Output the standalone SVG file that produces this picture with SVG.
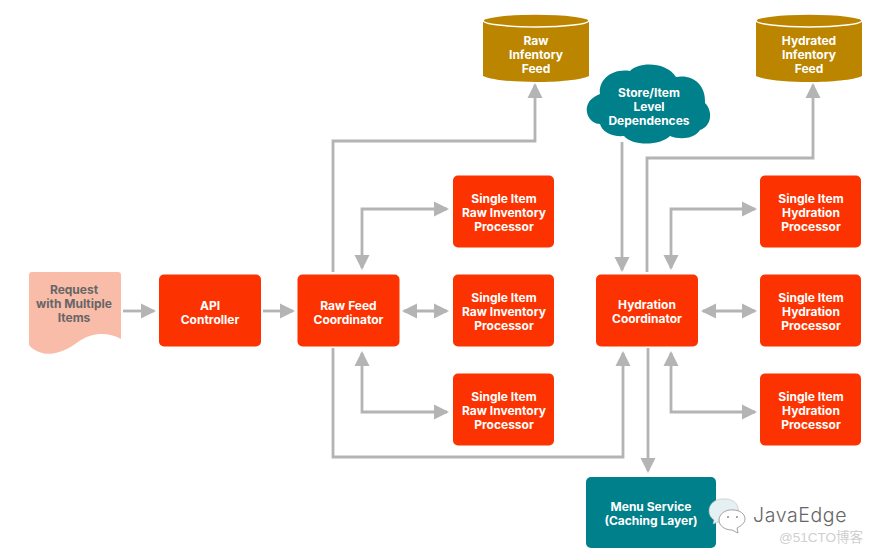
<svg xmlns="http://www.w3.org/2000/svg" width="875" height="555" viewBox="0 0 875 555">
<style>
.box{fill:#fc3300}
.t{font-family:"Inter","Liberation Sans",sans-serif;font-size:12px;font-weight:700;fill:#fff;text-anchor:middle}
.c{fill:none;stroke:#b4b4b4;stroke-width:2.8}
.can{fill:#bb8500}
.rim{fill:#bb8500;stroke:#fff;stroke-width:1.500}
.teal{fill:#00808a}
.bubble{fill:#fff;stroke:#8a8a8a;stroke-width:.8}
.eye{fill:#8a8a8a}
</style>
<defs>
<marker id="a" markerUnits="userSpaceOnUse" markerWidth="16" markerHeight="16" refX="13" refY="8" orient="auto-start-reverse"><path d="M0 .5L15 8L0 15.500z" fill="#b4b4b4"/></marker>
</defs>
<rect width="875" height="555" fill="#fff"/>
<g id="connectors">
<path class="c" marker-end="url(#a)" d="M123 311H154"/>
<path class="c" marker-end="url(#a)" d="M263 311H293"/>
<path class="c" marker-end="url(#a)" d="M333 272V141H535V85"/>
<path class="c" marker-start="url(#a)" marker-end="url(#a)" d="M362 268V209H447"/>
<path class="c" marker-start="url(#a)" marker-end="url(#a)" d="M404 311H447"/>
<path class="c" marker-start="url(#a)" marker-end="url(#a)" d="M362 353V412H447"/>
<path class="c" marker-end="url(#a)" d="M333 348V457H623V353"/>
<path class="c" marker-end="url(#a)" d="M622 142V270"/>
<path class="c" marker-end="url(#a)" d="M647 272V158H813V85"/>
<path class="c" marker-start="url(#a)" marker-end="url(#a)" d="M671 268V209H755"/>
<path class="c" marker-start="url(#a)" marker-end="url(#a)" d="M703 311H755"/>
<path class="c" marker-start="url(#a)" marker-end="url(#a)" d="M671 353V412H755"/>
<path class="c" marker-end="url(#a)" d="M648 348V471"/>
</g>
<g id="request"><path d="M32 272H118Q121 272 121 275V339C108 332 92 332 78 342C66 351 52 356 42 353C36 351 32 349 29 345V275Q29 272 32 272z" fill="#f8bca8"/><text class="t" style="fill:#666"><tspan x="74" y="294">Request</tspan><tspan x="74" y="308">with Multiple</tspan><tspan x="74" y="322">Items</tspan></text></g>
<g id="api"><rect class="box" x="159" y="274.500" width="102" height="72" rx="5"/><text class="t"><tspan x="210" y="310">API</tspan><tspan x="210" y="324">Controller</tspan></text></g>
<g id="raw-coordinator"><rect class="box" x="297.500" y="274.500" width="102" height="72" rx="5"/><text class="t"><tspan x="348.500" y="310">Raw Feed</tspan><tspan x="348.500" y="324">Coordinator</tspan></text></g>
<g id="raw-1"><rect class="box" x="453" y="175.500" width="101" height="72" rx="5"/><text class="t"><tspan x="504" y="203">Single Item</tspan><tspan x="504" y="217">Raw Inventory</tspan><tspan x="504" y="231">Processor</tspan></text></g>
<g id="raw-2"><rect class="box" x="453" y="274.500" width="101" height="72" rx="5"/><text class="t"><tspan x="504" y="302">Single Item</tspan><tspan x="504" y="316">Raw Inventory</tspan><tspan x="504" y="330">Processor</tspan></text></g>
<g id="raw-3"><rect class="box" x="453" y="373.500" width="101" height="72" rx="5"/><text class="t"><tspan x="504" y="401">Single Item</tspan><tspan x="504" y="415">Raw Inventory</tspan><tspan x="504" y="429">Processor</tspan></text></g>
<g id="hydration-coordinator"><rect class="box" x="596" y="274.500" width="102" height="72" rx="5"/><text class="t"><tspan x="647" y="309">Hydration</tspan><tspan x="647" y="323">Coordinator</tspan></text></g>
<g id="hyd-1"><rect class="box" x="760" y="175.500" width="101" height="72" rx="5"/><text class="t"><tspan x="811" y="203">Single Item</tspan><tspan x="811" y="217">Hydration</tspan><tspan x="811" y="231">Processor</tspan></text></g>
<g id="hyd-2"><rect class="box" x="760" y="274.500" width="101" height="72" rx="5"/><text class="t"><tspan x="811" y="302">Single Item</tspan><tspan x="811" y="316">Hydration</tspan><tspan x="811" y="330">Processor</tspan></text></g>
<g id="hyd-3"><rect class="box" x="760" y="373.500" width="101" height="72" rx="5"/><text class="t"><tspan x="811" y="401">Single Item</tspan><tspan x="811" y="415">Hydration</tspan><tspan x="811" y="429">Processor</tspan></text></g>
<g id="raw-feed"><path class="can" d="M483 20V76C500 84 572 84 589 76V20z"/><ellipse class="rim" cx="536" cy="20.500" rx="53" ry="6.500"/><text class="t"><tspan x="536" y="45">Raw</tspan><tspan x="536" y="59">Infentory</tspan><tspan x="536" y="73">Feed</tspan></text></g>
<g id="hydrated-feed"><path class="can" d="M756 20V76C773 84 845 84 862 76V20z"/><ellipse class="rim" cx="809" cy="20.500" rx="53" ry="6.500"/><text class="t"><tspan x="809" y="45">Hydrated</tspan><tspan x="809" y="59">Infentory</tspan><tspan x="809" y="73">Feed</tspan></text></g>
<g id="dependences"><path class="teal" d="M600 94C598 80 612 68 630 71C638 62 666 61 676 77C692 74 706 84 705 103C713 111 712 126 700 130C694 139 680 140 670 136C660 146 632 146 624 136C612 137 602 132 600 124C590 124 584 112 588 104C590 99 595 96 600 94z"/><text class="t"><tspan x="649" y="97">Store/Item</tspan><tspan x="649" y="111">Level</tspan><tspan x="649" y="125">Dependences</tspan></text></g>
<g id="menu-service"><rect class="teal" x="586" y="477" width="130" height="71" rx="5"/><text class="t"><tspan x="651" y="511">Menu Service</tspan><tspan x="651" y="525">(Caching Layer)</tspan></text></g>
<g id="watermark">
<path d="M725 499C715 498 709 504 709 511C709 515 711 518 714 520L713 524L718 522C722 523 728 523 732 520C738 516 740 510 737 505C735 501 730 499 725 499z" fill="#e4f0f2" stroke="#bbb" stroke-width=".6"/>
<path class="bubble" d="M733 510C726 509 719 514 719 520C719 526 725 530 732 530L738 533L737 528C741 526 745 523 745 519C745 514 740 510 733 510z"/>
<circle class="eye" cx="728" cy="517" r="1"/><circle class="eye" cx="737" cy="517" r="1"/>
<text x="753" y="522" style="font-family:'Inter','Liberation Sans',sans-serif;font-size:19.500px;font-weight:300;letter-spacing:.6px;fill:#666">JavaEdge</text>
<text x="779" y="542" style="font-family:'Liberation Sans','Noto Sans CJK SC',sans-serif;font-size:13.500px;fill:#cfcfcf">@51CTO博客</text>
</g>
</svg>
